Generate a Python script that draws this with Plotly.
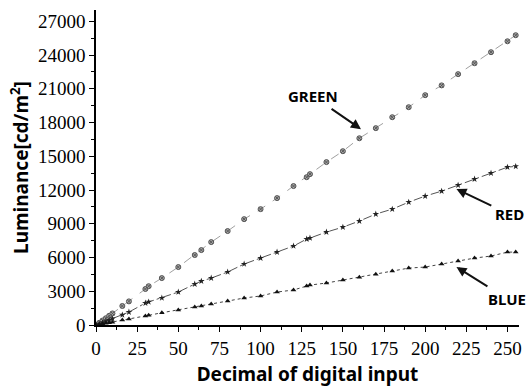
import plotly.graph_objects as go

# digital input levels (0-255) and measured luminance in cd/m^2
levels = [0, 2, 4, 6, 8, 10, 16, 20, 30, 32, 40, 50, 60, 64, 70, 80, 90, 100, 110,
          120, 128, 130, 140, 150, 160, 170, 180, 190, 200, 210, 220, 230, 240, 250, 255]

green = [0, 200, 400, 600, 820, 1030, 1690, 2100, 3200, 3450, 4170, 5150, 6220, 6660,
         7370, 8350, 9410, 10300, 11280, 12350, 13140, 13410, 14480, 15450, 16600,
         17500, 18470, 19360, 20430, 21300, 22300, 23270, 24250, 25220, 25760]

red = [0, 110, 220, 330, 440, 560, 900, 1150, 1950, 2050, 2400, 2930, 3640, 3900,
       4170, 4710, 5420, 5950, 6480, 7020, 7640, 7730, 8260, 8700, 9240, 9860, 10300,
       10920, 11460, 11900, 12430, 12970, 13500, 14030, 14100]

blue = [0, 50, 100, 150, 200, 250, 450, 530, 800, 860, 1090, 1330, 1600, 1690, 1870,
        2130, 2400, 2580, 2930, 3110, 3460, 3550, 3730, 4000, 4250, 4520, 4800, 5060,
        5150, 5420, 5680, 5950, 6130, 6480, 6480]

x_ticks = list(range(0, 251, 25))
y_ticks = list(range(0, 27001, 3000))

fig = go.Figure()
fig.add_trace(go.Scatter(
    x=levels, y=green, mode="lines+markers", name="GREEN",
    line=dict(color="#a0a0a0", width=1, dash="dash"),
    marker=dict(symbol="circle-x", size=5, color="#a8a8a8",
                line=dict(color="#555555", width=1))))
fig.add_trace(go.Scatter(
    x=levels, y=red, mode="lines+markers", name="RED",
    line=dict(color="#555555", width=1, dash="dashdot"),
    marker=dict(symbol="star", size=5, color="#222222")))
fig.add_trace(go.Scatter(
    x=levels, y=blue, mode="lines+markers", name="BLUE",
    line=dict(color="#444444", width=1, dash="dot"),
    marker=dict(symbol="triangle-up", size=5, color="#111111")))

label_font = dict(family="Noto Sans, DejaVu Sans, sans-serif", size=15, color="black")


def callout(text, tx, ty, tip):
    # label placed at (tx, ty) with an arrow running from it to the curve
    fig.add_annotation(x=tip[0], y=tip[1], ax=tx, ay=ty,
                       xref="x", yref="y", axref="x", ayref="y",
                       text="<b>%s</b>" % text, font=label_font,
                       showarrow=True, arrowhead=2, arrowsize=1, arrowwidth=2,
                       arrowcolor="#111111", standoff=0, startstandoff=2)


callout("GREEN", 132, 20340, (161, 17410))
callout("RED", 251, 9860, (219, 12080))
callout("BLUE", 250, 2310, (219, 5150))

tick_font = dict(family="Liberation Serif, DejaVu Serif, serif", size=19, color="black")
title_font = dict(family="Noto Sans, DejaVu Sans, sans-serif", size=19, color="black")

fig.update_xaxes(
    range=[0, 257], tickvals=x_ticks, ticktext=[str(v) for v in x_ticks],
    showline=True, linecolor="black", linewidth=1.5, showgrid=False, zeroline=False,
    ticks="outside", ticklen=5, tickwidth=1, tickcolor="black", tickfont=tick_font,
    minor=dict(ticks="outside", dtick=12.5, ticklen=3, tickcolor="black", showgrid=False),
    title=dict(text="<b>Decimal of digital input</b>", font=title_font, standoff=10))
fig.update_yaxes(
    range=[0, 28000], tickvals=y_ticks, ticktext=[str(v) for v in y_ticks],
    showline=True, linecolor="black", linewidth=1.5, showgrid=False, zeroline=False,
    ticks="outside", ticklen=5, tickwidth=1, tickcolor="black", tickfont=tick_font,
    minor=dict(ticks="outside", dtick=1500, ticklen=3, tickcolor="black", showgrid=False),
    title=dict(text="<b>Luminance[cd/m<sup>2</sup>]</b>", font=title_font, standoff=4))

fig.update_layout(
    width=531, height=391, showlegend=False,
    margin=dict(l=96, r=9, t=10, b=66),
    plot_bgcolor="white", paper_bgcolor="white")

fig.write_html("out.html")
